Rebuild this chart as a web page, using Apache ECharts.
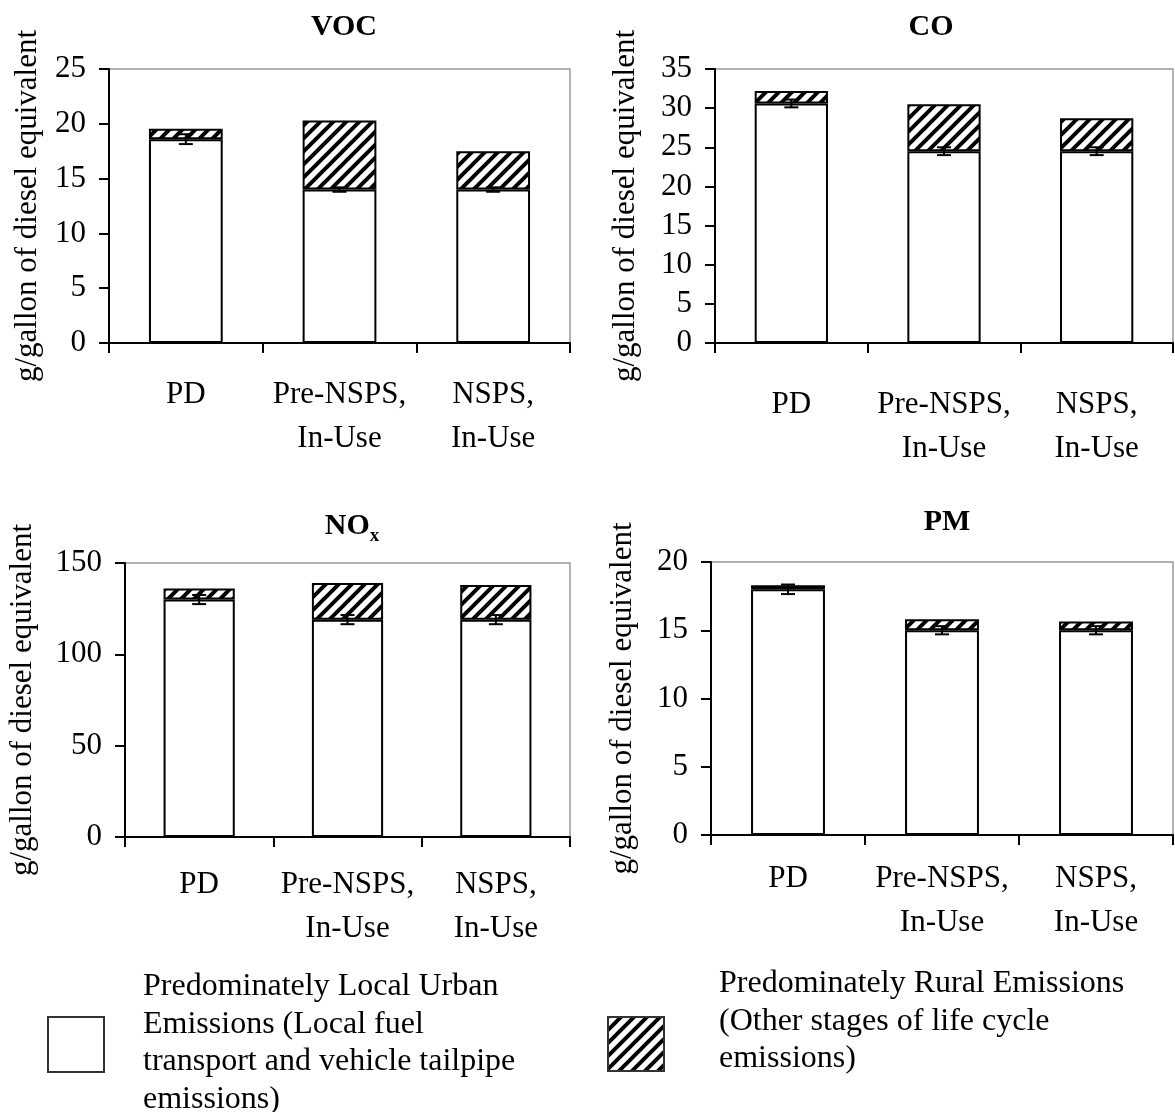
<!DOCTYPE html>
<html><head><meta charset="utf-8">
<script src="https://cdn.jsdelivr.net/npm/echarts@6/dist/echarts.min.js"></script>
<style>html,body{margin:0;padding:0;background:#fff}#c{width:1175px;height:1112px}</style>
</head><body><div id="c"></div>
<script>
// ---- data ----
const categories = ['PD', 'Pre-NSPS,\nIn-Use', 'NSPS,\nIn-Use'];
const panelTitles = ['VOC', 'CO', 'NO{sub|x}', 'PM'];
const vocUrban = [18.6, 14.0, 14.0];
const vocRural = [0.95, 6.3, 3.5];
const vocErr = [0.45, 0.2, 0.2];
const coUrban = [30.6, 24.5, 24.5];
const coRural = [1.6, 6.0, 4.2];
const coErr = [0.5, 0.5, 0.5];
const noxUrban = [130, 119, 119];
const noxRural = [6, 20, 19];
const noxErr = [2.5, 2.5, 2.5];
const pmUrban = [18.0, 15.0, 15.0];
const pmRural = [0.3, 0.8, 0.65];
const pmErr = [0.35, 0.3, 0.3];
const yMax = [25, 35, 150, 20];
const yInterval = [5, 5, 50, 5];
const yName = 'g/gallon of diesel equivalent';
const legendUrban = 'Predominately Local Urban\nEmissions (Local fuel\ntransport and vehicle tailpipe\nemissions)';
const legendRural = 'Predominately Rural Emissions\n(Other stages of life cycle\nemissions)';

const urbanSets = [vocUrban, coUrban, noxUrban, pmUrban];
const ruralSets = [vocRural, coRural, noxRural, pmRural];
const errSets = [vocErr, coErr, noxErr, pmErr];

// ---- layout ----
const FONT = "'Liberation Serif','Times New Roman',serif";
const grids = [
  {left:109, top:69, width:461, height:274},
  {left:715, top:69, width:458, height:274},
  {left:125, top:563, width:445, height:274},
  {left:711, top:562, width:462, height:273}
];
const titlePos = [[344, 12], [931, 12], [352, 507], [947, 507]];
const nameGaps = [66, 74, 87, 73];
const labelMargins = [30, 40, 26, 22];

function hatch() {
  const s = 13, c = document.createElement('canvas');
  c.width = s; c.height = s;
  const g = c.getContext('2d');
  g.fillStyle = '#fff'; g.fillRect(0, 0, s, s);
  g.strokeStyle = '#000'; g.lineWidth = 4;
  g.beginPath();
  [0, s, 2 * s].forEach(k => { g.moveTo(-s, k + s); g.lineTo(2 * s, k - 2 * s); });
  g.stroke();
  return c;
}
const hatchPattern = {image: hatch(), repeat: 'repeat'};

const option = {
  animation: false,
  backgroundColor: '#fff',
  title: panelTitles.map((t, i) => ({
    text: t, left: titlePos[i][0], top: titlePos[i][1], padding: 0,
    textAlign: 'center', textVerticalAlign: 'top',
    textStyle: {fontFamily: FONT, fontSize: 30, fontWeight: 'bold', color: '#000',
      rich: {sub: {fontFamily: FONT, fontSize: 19, fontWeight: 'bold', color: '#000', verticalAlign: 'top', padding: [20, 0, 0, 0]}}}
  })),
  grid: grids.map(g => Object.assign({show: true, borderColor: '#999', borderWidth: 1.5, outerBoundsMode: 'none', containLabel: false}, g)),
  xAxis: grids.map((g, i) => ({
    type: 'category', gridIndex: i, data: categories,
    axisLine: {lineStyle: {color: '#000', width: 2}},
    axisTick: {show: true, length: 10, lineStyle: {color: '#000', width: 2}},
    axisLabel: {interval: 0, margin: labelMargins[i], fontFamily: FONT, fontSize: 31, lineHeight: 44, color: '#000'},
    splitLine: {show: false}
  })),
  yAxis: grids.map((g, i) => ({
    type: 'value', gridIndex: i, min: 0, max: yMax[i], interval: yInterval[i],
    axisLine: {show: true, lineStyle: {color: '#000', width: 2}},
    axisTick: {show: true, length: 10, lineStyle: {color: '#000', width: 2}},
    axisLabel: {margin: 23, fontFamily: FONT, fontSize: 31, color: '#000'},
    splitLine: {show: false},
    name: yName, nameLocation: 'middle', nameGap: nameGaps[i],
    nameTextStyle: {fontFamily: FONT, fontSize: 31, color: '#000'}
  })),
  series: [],
  graphic: [
    {type: 'rect', shape: {x: 48, y: 1017, width: 56, height: 55}, style: {fill: '#fff', stroke: '#333', lineWidth: 2}},
    {type: 'text', x: 143, y: 968, style: {text: legendUrban, font: '32px ' + FONT, fill: '#000', lineHeight: 37.5, textVerticalAlign: 'top'}},
    {type: 'rect', shape: {x: 608, y: 1017, width: 56, height: 54}, style: {fill: hatchPattern, stroke: '#333', lineWidth: 2}},
    {type: 'text', x: 719, y: 965, style: {text: legendRural, font: '32px ' + FONT, fill: '#000', lineHeight: 37.5, textVerticalAlign: 'top'}}
  ]
};

for (let i = 0; i < 4; i++) {
  option.series.push({
    name: 'Predominately Local Urban Emissions', type: 'bar', xAxisIndex: i, yAxisIndex: i,
    stack: 's' + i, barWidth: '48%', data: urbanSets[i],
    itemStyle: {color: '#fff', borderColor: '#000', borderWidth: 2}
  });
  option.series.push({
    name: 'Predominately Rural Emissions', type: 'bar', xAxisIndex: i, yAxisIndex: i,
    stack: 's' + i, barWidth: '48%', data: ruralSets[i],
    itemStyle: {color: hatchPattern, borderColor: '#000', borderWidth: 2}
  });
  option.series.push({
    name: 'error', type: 'custom', xAxisIndex: i, yAxisIndex: i, z: 10,
    data: urbanSets[i].map((v, k) => [k, v, errSets[i][k]]),
    encode: {x: 0, y: 1},
    renderItem: function (params, api) {
      const x = api.value(0), y = api.value(1), e = api.value(2);
      const t = api.coord([x, y + e]), b = api.coord([x, y - e]);
      const hw = 7, st = {stroke: '#000', lineWidth: 2};
      return {type: 'group', children: [
        {type: 'line', shape: {x1: t[0], y1: t[1], x2: b[0], y2: b[1]}, style: st},
        {type: 'line', shape: {x1: t[0] - hw, y1: t[1], x2: t[0] + hw, y2: t[1]}, style: st},
        {type: 'line', shape: {x1: b[0] - hw, y1: b[1], x2: b[0] + hw, y2: b[1]}, style: st}
      ]};
    }
  });
}

const chart = echarts.init(document.getElementById('c'), null, {renderer: 'canvas'});
chart.setOption(option);
</script>
</body></html>
